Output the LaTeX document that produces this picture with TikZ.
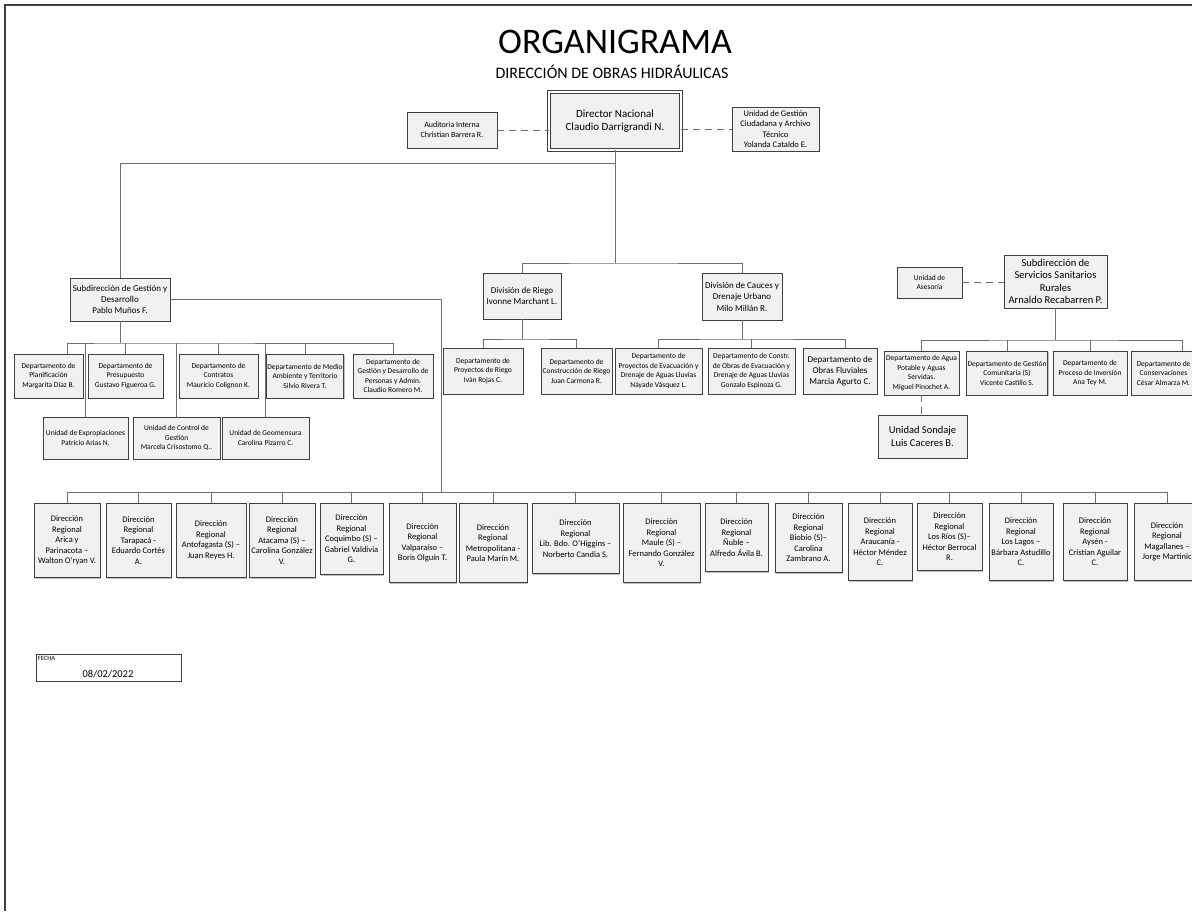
\documentclass[tikz,border=0pt]{standalone}
\usepackage{fontspec}
\setmainfont{Carlito}
\usetikzlibrary{shadows}
\definecolor{borde}{HTML}{404040}
\definecolor{conector}{HTML}{6E6E6E}
\definecolor{relleno}{HTML}{F1F1F1}
\tikzset{
  caja/.style={draw=borde, fill=relleno, align=center, inner sep=1pt, line width=0.8pt,
    drop shadow={shadow xshift=1.3pt, shadow yshift=-1.3pt, fill=black, opacity=0.25}},
  tam/.style 2 args={minimum width=#1, minimum height=#2},
  depto/.style={caja, font=\fontsize{7.5}{9.5}\selectfont},
  region/.style={caja, anchor=north, font=\fontsize{8.5}{10.5}\selectfont},
  linea/.style={draw=conector, line width=1pt},
  punteada/.style={linea, dash pattern=on 7pt off 5pt},
}
\begin{document}
\begin{tikzpicture}[x=1pt,y=-1pt]
  \clip (0,0) rectangle (1192,911);
  \draw[borde, line width=1.5pt] (1192,5) -- (5,5) -- (5,911);
  % titulo
  \node (titulo) at (615,42) {\fontsize{36}{42}\selectfont ORGANIGRAMA};
  \node (subtit) at (612,72) {\fontsize{16}{18}\selectfont DIRECCIÓN DE OBRAS HIDRÁULICAS};
  % direccion nacional
  \node[caja, double, double distance=1.5pt, tam={132}{58}, font=\fontsize{11}{13.5}\selectfont] (dirn) at (615,121) {Director Nacional\\Claudio Darrigrandi N.};
  \node[caja, tam={90}{36}, font=\fontsize{8}{10}\selectfont] (audit) at (452,130) {Auditoria Interna\\Christian Barrera R.};
  \node[caja, tam={87}{44}, font=\fontsize{8.5}{10.3}\selectfont] (ugc) at (775.5,129) {Unidad de Gestión\\Ciudadana y Archivo\\Técnico\\Yolanda Cataldo E.};
  \draw[punteada] (audit.east) -- (audit.east -| dirn.west);
  \draw[punteada] (ugc.west -| dirn.east) -- (ugc.west);
  % subdireccion de gestion y desarrollo
  \node[caja, tam={100}{43}, font=\fontsize{9}{10.8}\selectfont] (sgd) at (120,299.5) {Subdirección de Gestión y\\Desarrollo\\Pablo Muños F.};
  \node[depto, tam={69}{44}] (plan) at (48.5,376) {Departamento de\\Planificación\\Margarita Díaz B.};
  \node[depto, tam={75}{44}] (presu) at (125.5,376) {Departamento de\\Presupuesto\\Gustavo Figueroa G.};
  \node[depto, tam={79}{44}] (contr) at (218.5,376) {Departamento de\\Contratos\\Mauricio Colignon K.};
  \node[depto, tam={76}{44}] (medio) at (305,376) {Departamento de Medio\\Ambiente y Territorio\\Silvio Rivera T.};
  \node[depto, tam={80}{44}] (perso) at (393,376) {Departamento de\\Gestión y Desarrollo de\\Personas y Admin.\\Claudio Romero M.};
  \node[depto, tam={85}{42}] (expro) at (85.5,438) {Unidad de Expropiaciones\\Patricio Arias N.};
  \node[depto, tam={87}{42}] (ctrl) at (176.5,438) {Unidad de Control de\\Gestión\\Marcela Crisostomo Q..};
  \node[depto, tam={87}{42}] (geo) at (265.5,438) {Unidad de Geomensura\\Carolina Pizarro C.};
  \coordinate (bussgd) at (615,163);
  \draw[linea] (dirn.south) -- (bussgd) -| (sgd.north);
  \coordinate (busdep) at (120,343);
  \draw[linea] (sgd.south) -- (busdep);
  \draw[linea] ([xshift=18.5pt]plan.north) |- (busdep) -- (perso.north |- busdep);
  \foreach \n in {expro,presu,ctrl,contr,geo,medio,perso}
    \draw[linea] (\n.north |- busdep) -- (\n.north);
  % divisiones
  \node[caja, tam={78}{46}, font=\fontsize{9}{11.5}\selectfont] (riego) at (522,296) {División de Riego\\Ivonne Marchant L.};
  \node[caja, tam={80}{47}, font=\fontsize{9}{11.5}\selectfont] (cauces) at (742,296.5) {División de Cauces y\\Drenaje Urbano\\Milo Millán R.};
  \node[depto, tam={80}{46}] (proyr) at (483,371) {Departamento de\\Proyectos de Riego\\Iván Rojas C.};
  \node[depto, tam={71}{46}] (const) at (576.5,371) {Departamento de\\Construcción de Riego\\Juan Carmona R.};
  \node[depto, tam={87}{46}] (proye) at (658.5,371) {Departamento de\\Proyectos de Evacuación y\\Drenaje de Aguas Lluvias\\Náyade Vásquez L.};
  \node[depto, tam={87}{46}] (conse) at (751.5,371) {Departamento de Constr.\\de Obras de Evacuación y\\Drenaje de Aguas Lluvias\\Gonzalo Espinoza G.};
  \node[caja, tam={74}{46}, font=\fontsize{9}{11}\selectfont] (fluv) at (840,371) {Departamento de\\Obras Fluviales\\Marcia Agurto C.};
  \coordinate (busdiv) at (615,263);
  \draw[linea] (bussgd) -- (busdiv);
  \draw[linea] (riego.north) |- (busdiv) -| (cauces.north);
  \coordinate (busriego) at (522,339);
  \draw[linea] (riego.south) -- (busriego);
  \draw[linea] (proyr.north) |- (busriego) -| (const.north);
  \coordinate (buscauces) at (742,339);
  \draw[linea] (cauces.south) -- (buscauces);
  \draw[linea] (proye.north) |- (buscauces) -| ([xshift=5pt]fluv.north);
  \draw[linea] (conse.north |- buscauces) -- (conse.north);
  % servicios sanitarios rurales
  \node[caja, tam={65}{31}, font=\fontsize{7.5}{9.5}\selectfont] (asesor) at (929.5,282.5) {Unidad de\\Asesoría};
  \node[caja, tam={103}{53}, font=\fontsize{10.5}{12.5}\selectfont] (ssr) at (1055.5,281.5) {Subdirección de\\Servicios Sanitarios\\Rurales\\Arnaldo Recabarren P.};
  \node[depto, tam={75}{44}] (agua) at (921.5,373) {Departamento de Agua\\Potable y Aguas\\Servidas.\\Miguel Pinochet A.};
  \node[depto, tam={80}{44}] (gcom) at (1007,373) {Departamento de Gestión\\Comunitaria (S)\\Vicente Castillo S.};
  \node[depto, tam={74}{44}] (pinv) at (1090,373) {Departamento de\\Proceso de Inversión\\Ana Tey M.};
  \node[depto, tam={65}{44}] (conserv) at (1163.5,373) {Departamento de\\Conservaciones\\César Almarza M.};
  \node[caja, tam={89}{43}, font=\fontsize{10.5}{12.5}\selectfont] (sondaje) at (922.5,436.5) {Unidad Sondaje\\Luis Caceres B.};
  \draw[punteada] (asesor.east) -- (asesor.east -| ssr.west);
  \coordinate (busssr) at (1055.5,340);
  \draw[linea] (ssr.south) -- (busssr);
  \draw[linea] (agua.north) |- (busssr) -| ([xshift=18.5pt]conserv.north);
  \foreach \n in {gcom,pinv}
    \draw[linea] (\n.north |- busssr) -- (\n.north);
  \draw[punteada] (agua.south) -- (agua.south |- sondaje.north);
  % direcciones regionales
  \node[region, tam={66}{74}] (arica) at (67,503) {Dirección\\Regional\\Arica y\\Parinacota –\\Walton O'ryan V.};
  \node[region, tam={65}{74}] (tara) at (138.5,503) {Dirección\\Regional\\Tarapacá -\\Eduardo Cortés\\A.};
  \node[region, tam={70}{74}] (antof) at (211,503) {Dirección\\Regional\\Antofagasta (S) –\\Juan Reyes H.};
  \node[region, tam={66}{74}] (ataca) at (282,503) {Dirección\\Regional\\Atacama (S) –\\Carolina González\\V.};
  \node[region, tam={63}{71}] (coqui) at (351.5,503) {Dirección\\Regional\\Coquimbo (S) –\\Gabriel Valdivia\\G.};
  \node[region, tam={67}{79}] (valpo) at (422.5,503) {Dirección\\Regional\\Valparaíso –\\Boris Olguín T.};
  \node[region, tam={68}{79}] (metro) at (493,503) {Dirección\\Regional\\Metropolitana -\\Paula Marín M.};
  \node[region, tam={87}{70}] (ohig) at (575.5,503) {Dirección\\Regional\\Lib. Bdo. O'Higgins –\\Norberto Candia S.};
  \node[region, tam={77}{79}] (maule) at (661.5,503) {Dirección\\Regional\\Maule (S) –\\Fernando González\\V.};
  \node[region, tam={63}{68}] (nuble) at (736.5,503) {Dirección\\Regional\\Ñuble –\\Alfredo Ávila B.};
  \node[region, tam={67}{69}] (biobio) at (808.5,503) {Dirección\\Regional\\Biobío (S)–\\Carolina\\Zambrano A.};
  \node[region, tam={64}{77}] (arauc) at (880,503) {Dirección\\Regional\\Araucanía -\\Héctor Méndez\\C.};
  \node[region, tam={65}{67}] (rios) at (949.5,503) {Dirección\\Regional\\Los Ríos (S)–\\Héctor Berrocal\\R.};
  \node[region, tam={64}{77}] (lagos) at (1021,503) {Dirección\\Regional\\Los Lagos –\\Bárbara Astudillo\\C.};
  \node[region, tam={64}{77}] (aysen) at (1095,503) {Dirección\\Regional\\Aysén -\\Cristian Aguilar\\C.};
  \node[region, tam={66}{77}] (magal) at (1167,503) {Dirección\\Regional\\Magallanes –\\Jorge Martinic};
  \coordinate (busreg) at (441,492);
  \draw[linea] (sgd.east) -| (busreg);
  \draw[linea] (arica.north |- busreg) -- (magal.north |- busreg);
  \foreach \n in {arica,tara,antof,ataca,coqui,valpo,metro,ohig,maule,nuble,biobio,arauc,rios,lagos,aysen,magal}
    \draw[linea] (\n.north |- busreg) -- (\n.north);
  % fecha
  \node[draw=borde, line width=0.8pt, tam={145}{27}, inner sep=0pt] (fecha) at (108.5,667.5) {};
  \node[anchor=north west, inner sep=2pt, font=\fontsize{6.5}{7}\selectfont] (fechatit) at (fecha.north west) {FECHA};
  \node[font=\fontsize{10.5}{12}\selectfont] (fechaval) at (108,674) {08/02/2022};
\end{tikzpicture}
\end{document}
